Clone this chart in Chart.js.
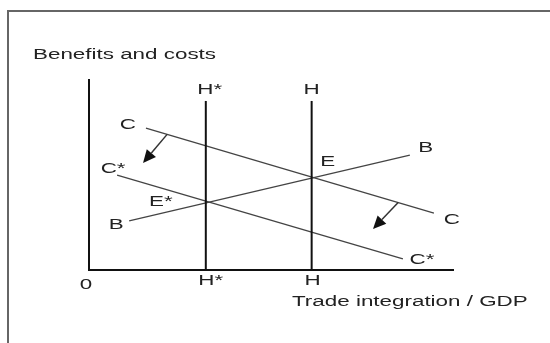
<!DOCTYPE html>
<html>
<head>
<meta charset="utf-8">
<script src="https://cdn.jsdelivr.net/npm/chart.js@4/dist/chart.umd.min.js"></script>
<style>
  html, body { margin: 0; padding: 0; background: #fff; }
  #wrap { width: 550px; height: 343px; }
</style>
</head>
<body>
<div id="wrap"><canvas id="chart" width="550" height="343"></canvas></div>
<script>
// data (axis units 0..10)
const axisX = [0, 10];
const axisY = [0, 10];
const hStarX = 3.2;
const hX = 6.1;
const hTop = 8.85;
const curveC = [[1.56, 7.43], [9.45, 2.98]];
const curveB = [[1.1, 2.57], [8.79, 6.02]];
const curveCStar = [[0.77, 4.97], [8.6, 0.58]];
const shiftArrows = [[[2.14, 7.1], [1.48, 5.6]], [[8.47, 3.53], [7.78, 2.15]]];

const xTitle = 'Trade integration / GDP';
const yTitle = 'Benefits and costs';

const toPts = arr => arr.map(p => ({ x: p[0], y: p[1] }));

function yOnLine(line, x) {
    const [a, b] = line;
    return a[1] + (b[1] - a[1]) * (x - a[0]) / (b[0] - a[0]);
}

const FONT = '14px "Liberation Sans", Arial, sans-serif';
const STRETCH = 1.6;

function drawText(ctx, str, x, y, align) {
    ctx.save();
    ctx.translate(x, y);
    ctx.scale(STRETCH, 1);
    ctx.font = FONT;
    ctx.fillStyle = '#222';
    ctx.textAlign = align || 'center';
    ctx.textBaseline = 'middle';
    ctx.fillText(str, 0, 0);
    ctx.restore();
}

const decorPlugin = {
    id: 'decor',
    beforeDraw(chart) {
        const ctx = chart.ctx;
        ctx.save();
        ctx.fillStyle = '#fff';
        ctx.fillRect(0, 0, chart.width, chart.height);
        // frame
        ctx.strokeStyle = '#666';
        ctx.lineWidth = 2;
        ctx.beginPath();
        ctx.moveTo(8, chart.height);
        ctx.lineTo(8, 11);
        ctx.lineTo(chart.width, 11);
        ctx.stroke();
        ctx.restore();
    },
    afterDatasetsDraw(chart) {
        const ctx = chart.ctx;
        const xs = chart.scales.x, ys = chart.scales.y;
        const px = v => xs.getPixelForValue(v);
        const py = v => ys.getPixelForValue(v);

        // shift arrows
        shiftArrows.forEach(([from, to]) => {
            const x1 = px(from[0]), y1 = py(from[1]);
            const x2 = px(to[0]), y2 = py(to[1]);
            const ang = Math.atan2(y2 - y1, x2 - x1);
            const headLen = 13, headW = 6;
            const bx = x2 - headLen * Math.cos(ang), by = y2 - headLen * Math.sin(ang);
            ctx.save();
            ctx.strokeStyle = '#333';
            ctx.fillStyle = '#111';
            ctx.lineWidth = 1.5;
            ctx.beginPath();
            ctx.moveTo(x1, y1);
            ctx.lineTo(bx, by);
            ctx.stroke();
            ctx.beginPath();
            ctx.moveTo(x2, y2);
            ctx.lineTo(bx + headW * Math.sin(ang), by - headW * Math.cos(ang));
            ctx.lineTo(bx - headW * Math.sin(ang), by + headW * Math.cos(ang));
            ctx.closePath();
            ctx.fill();
            ctx.restore();
        });

        // labels
        const x0 = px(axisX[0]), y0 = py(axisY[0]);
        drawText(ctx, yTitle, 33, 55, 'left');
        drawText(ctx, xTitle, 292, 302, 'left');
        drawText(ctx, '0', x0 - 3, y0 + 15);
        drawText(ctx, 'H*', px(hStarX) + 4, py(hTop) - 11);
        drawText(ctx, 'H', px(hX), py(hTop) - 11);
        drawText(ctx, 'H*', px(hStarX) + 5, y0 + 11);
        drawText(ctx, 'H', px(hX) + 1, y0 + 11);

        drawText(ctx, 'C', px(curveC[0][0]) - 18, py(curveC[0][1]) - 3);
        drawText(ctx, 'C', px(curveC[1][0]) + 18, py(curveC[1][1]) + 7);
        drawText(ctx, 'B', px(curveB[0][0]) - 13, py(curveB[0][1]) + 4);
        drawText(ctx, 'B', px(curveB[1][0]) + 16, py(curveB[1][1]) - 7);
        drawText(ctx, 'C*', px(curveCStar[0][0]) - 4, py(curveCStar[0][1]) - 6);
        drawText(ctx, 'C*', px(curveCStar[1][0]) + 19, py(curveCStar[1][1]) + 1);

        drawText(ctx, 'E', px(hX) + 16, py(yOnLine(curveC, hX)) - 15);
        drawText(ctx, 'E*', px(hStarX) - 45, py(yOnLine(curveB, hStarX)) - 1);
    }
};

const thick = { borderColor: '#111', borderWidth: 2 };
const thin = { borderColor: '#444', borderWidth: 1.3 };

new Chart(document.getElementById('chart'), {
    type: 'scatter',
    data: {
        datasets: [
            { data: toPts([[axisX[0], axisY[1]], [axisX[0], axisY[0]], [axisX[1], axisY[0]]]), ...thick },
            { data: toPts([[hStarX, axisY[0]], [hStarX, hTop]]), ...thick },
            { data: toPts([[hX, axisY[0]], [hX, hTop]]), ...thick },
            { data: toPts(curveC), ...thin },
            { data: toPts(curveB), ...thin },
            { data: toPts(curveCStar), ...thin }
        ].map(d => Object.assign(d, { showLine: true, pointRadius: 0, clip: false, tension: 0 }))
    },
    options: {
        responsive: false,
        animation: false,
        events: [],
        layout: { padding: { left: 89, right: 96, top: 79, bottom: 73 } },
        scales: {
            x: { type: 'linear', min: axisX[0], max: axisX[1], display: false },
            y: { type: 'linear', min: axisY[0], max: axisY[1], display: false }
        },
        plugins: { legend: { display: false }, tooltip: { enabled: false } }
    },
    plugins: [decorPlugin]
});
</script>
</body>
</html>
